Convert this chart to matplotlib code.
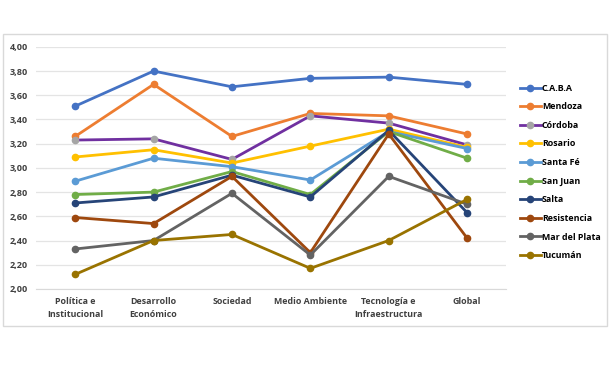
import matplotlib.pyplot as plt
from matplotlib.patches import Rectangle

# Kategorier och serier
kategorier = ["Política e\nInstitucional", "Desarrollo\nEconómico", "Sociedad",
              "Medio Ambiente", "Tecnología e\nInfraestructura", "Global"]

caba = [3.51, 3.80, 3.67, 3.74, 3.75, 3.69]
mendoza = [3.26, 3.69, 3.26, 3.45, 3.43, 3.28]
cordoba = [3.23, 3.24, 3.07, 3.43, 3.37, 3.19]
rosario = [3.09, 3.15, 3.04, 3.18, 3.32, 3.17]
santa_fe = [2.89, 3.08, 3.01, 2.90, 3.30, 3.16]
san_juan = [2.78, 2.80, 2.97, 2.78, 3.30, 3.08]
salta = [2.71, 2.76, 2.94, 2.76, 3.31, 2.63]
resistencia = [2.59, 2.54, 2.93, 2.30, 3.28, 2.42]
mar_del_plata = [2.33, 2.40, 2.79, 2.28, 2.93, 2.70]
tucuman = [2.12, 2.40, 2.45, 2.17, 2.40, 2.74]

y_ticks = [2.0, 2.2, 2.4, 2.6, 2.8, 3.0, 3.2, 3.4, 3.6, 3.8, 4.0]

serier = [
    ("C.A.B.A", caba, "#4472C4", "#4472C4"),
    ("Mendoza", mendoza, "#ED7D31", "#ED7D31"),
    ("Córdoba", cordoba, "#7030A0", "#A5A5A5"),
    ("Rosario", rosario, "#FFC000", "#FFC000"),
    ("Santa Fé", santa_fe, "#5B9BD5", "#5B9BD5"),
    ("San Juan", san_juan, "#70AD47", "#70AD47"),
    ("Salta", salta, "#264478", "#264478"),
    ("Resistencia", resistencia, "#9E480E", "#9E480E"),
    ("Mar del Plata", mar_del_plata, "#636363", "#636363"),
    ("Tucumán", tucuman, "#997300", "#997300"),
]

plt.rcParams['font.family'] = ['Open Sans', 'DejaVu Sans']

fig = plt.figure(figsize=(6.10, 3.69), dpi=100)
fig.patches.append(Rectangle((3 / 610, 1 - 326 / 369), 604 / 610, 292 / 369,
                             transform=fig.transFigure, fill=False,
                             edgecolor="#D9D9D9", linewidth=1))

ax = fig.add_axes([0.059, 0.217, 0.771, 0.656])
x = list(range(len(kategorier)))

handles = []
for namn, varden, farg, markfarg in serier:
    h, = ax.plot(x, varden, color=farg, linewidth=2.0, marker="o", markersize=4.5,
                 markerfacecolor=markfarg, markeredgecolor=markfarg, label=namn)
    handles.append(h)

ax.set_xlim(-0.5, len(kategorier) - 0.5)
ax.set_ylim(2.0, 4.0)
ax.set_yticks(y_ticks)
ax.set_yticklabels([f"{v:.2f}".replace(".", ",") for v in y_ticks],
                   fontsize=6.6, fontweight="bold", color="#404040")
ax.set_xticks(x)
ax.set_xticklabels(kategorier, fontsize=6.4, fontweight="bold", color="#404040",
                   linespacing=1.5)
ax.tick_params(axis="both", length=0, pad=6)
ax.grid(axis="y", color="#E4E4E4", linewidth=0.9)
ax.set_axisbelow(True)
for s in ["top", "right", "left"]:
    ax.spines[s].set_visible(False)
ax.spines["bottom"].set_color("#D9D9D9")

fig.legend(handles=handles, loc="upper left", bbox_to_anchor=(0.846, 0.783),
           frameon=False, prop={"weight": "bold", "size": 6.4},
           handlelength=2.4, handletextpad=0.1, labelspacing=1.08,
           borderaxespad=0)

fig.savefig("out.png", dpi=100)
